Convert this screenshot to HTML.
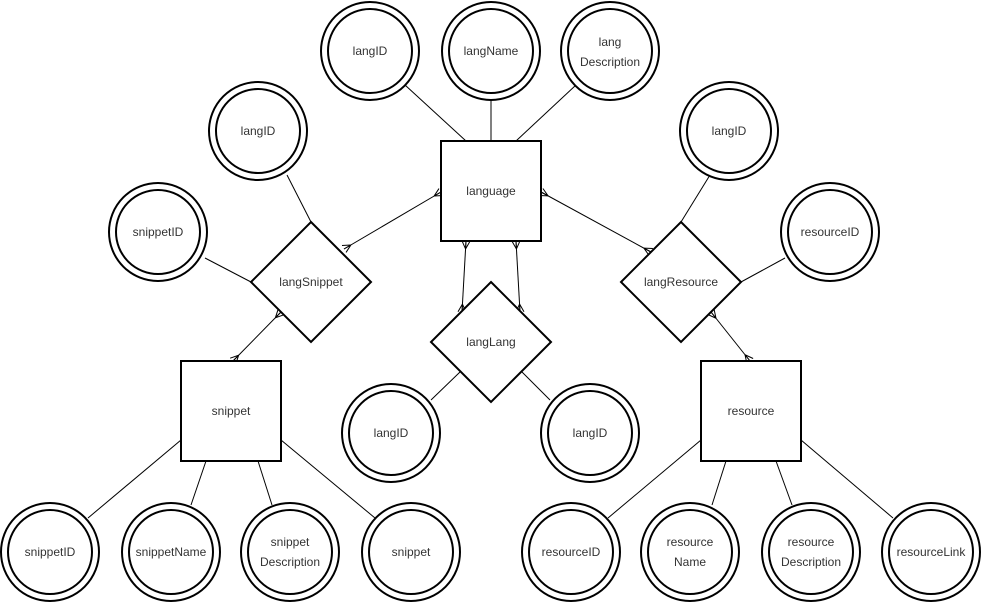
<!DOCTYPE html>
<html><head><meta charset="utf-8"><style>
html,body{margin:0;padding:0;background:#fff;}
svg{display:block;}
text{font-family:"Liberation Sans",Arial,sans-serif;font-size:12px;fill:#333;text-anchor:middle;dominant-baseline:central;}
</style></head><body>
<svg width="982" height="602" viewBox="0 0 982 602" xmlns="http://www.w3.org/2000/svg">
<defs>
<marker id="cf" markerWidth="12" markerHeight="12" refX="10" refY="5" orient="auto-start-reverse" markerUnits="userSpaceOnUse">
<path d="M2,5 L10,1 M2,5 L10,9 M2,5 L10,5" stroke="#000" stroke-width="1" fill="none"/>
</marker>
</defs>
<g stroke="#000" stroke-width="1" fill="none">
<line x1="405" y1="85" x2="466" y2="141"/>
<line x1="491" y1="99" x2="491" y2="141"/>
<line x1="576" y1="85" x2="516" y2="141"/>
<line x1="287" y1="175" x2="311" y2="222"/>
<line x1="205" y1="258" x2="251" y2="282"/>
<line x1="441" y1="192" x2="344" y2="249" marker-start="url(#cf)" marker-end="url(#cf)"/>
<line x1="281" y1="312" x2="233" y2="361" marker-start="url(#cf)" marker-end="url(#cf)"/>
<line x1="466" y1="241" x2="462" y2="312" marker-start="url(#cf)" marker-end="url(#cf)"/>
<line x1="516" y1="241" x2="520" y2="312" marker-start="url(#cf)" marker-end="url(#cf)"/>
<line x1="460" y1="372" x2="431" y2="400"/>
<line x1="522" y1="372" x2="550" y2="400"/>
<line x1="541" y1="192" x2="651" y2="252" marker-start="url(#cf)" marker-end="url(#cf)"/>
<line x1="710" y1="175" x2="681" y2="222"/>
<line x1="785" y1="258" x2="741" y2="282"/>
<line x1="711" y1="312" x2="750" y2="361" marker-start="url(#cf)" marker-end="url(#cf)"/>
<line x1="181" y1="440" x2="88" y2="518"/>
<line x1="206" y1="461" x2="191" y2="505"/>
<line x1="258" y1="461" x2="272" y2="505"/>
<line x1="281" y1="440" x2="375" y2="518"/>
<line x1="701" y1="440" x2="608" y2="518"/>
<line x1="726" y1="461" x2="712" y2="505"/>
<line x1="776" y1="461" x2="792" y2="505"/>
<line x1="801" y1="440" x2="893" y2="518"/>
</g>
<g stroke="#000" stroke-width="2" fill="#fff">
<rect x="441" y="141" width="100" height="100"/>
<rect x="181" y="361" width="100" height="100"/>
<rect x="701" y="361" width="100" height="100"/>
<polygon points="311,222 371,282 311,342 251,282"/>
<polygon points="491,282 551,342 491,402 431,342"/>
<polygon points="681,222 741,282 681,342 621,282"/>
</g>
<g stroke="#000" stroke-width="2" fill="#fff">
<circle cx="370" cy="51" r="49"/><circle cx="370" cy="51" r="42"/>
<circle cx="491" cy="51" r="49"/><circle cx="491" cy="51" r="42"/>
<circle cx="610" cy="51" r="49"/><circle cx="610" cy="51" r="42"/>
<circle cx="258" cy="131" r="49"/><circle cx="258" cy="131" r="42"/>
<circle cx="158" cy="232" r="49"/><circle cx="158" cy="232" r="42"/>
<circle cx="729" cy="131" r="49"/><circle cx="729" cy="131" r="42"/>
<circle cx="830" cy="232" r="49"/><circle cx="830" cy="232" r="42"/>
<circle cx="391" cy="433" r="49"/><circle cx="391" cy="433" r="42"/>
<circle cx="590" cy="433" r="49"/><circle cx="590" cy="433" r="42"/>
<circle cx="50" cy="552" r="49"/><circle cx="50" cy="552" r="42"/>
<circle cx="171" cy="552" r="49"/><circle cx="171" cy="552" r="42"/>
<circle cx="290" cy="552" r="49"/><circle cx="290" cy="552" r="42"/>
<circle cx="411" cy="552" r="49"/><circle cx="411" cy="552" r="42"/>
<circle cx="571" cy="552" r="49"/><circle cx="571" cy="552" r="42"/>
<circle cx="690" cy="552" r="49"/><circle cx="690" cy="552" r="42"/>
<circle cx="811" cy="552" r="49"/><circle cx="811" cy="552" r="42"/>
<circle cx="931" cy="552" r="49"/><circle cx="931" cy="552" r="42"/>
</g>
<text x="370" y="51">langID</text>
<text x="491" y="51">langName</text>
<text x="610" y="42">lang</text><text x="610" y="62">Description</text>
<text x="258" y="131">langID</text>
<text x="158" y="232">snippetID</text>
<text x="729" y="131">langID</text>
<text x="830" y="232">resourceID</text>
<text x="391" y="433">langID</text>
<text x="590" y="433">langID</text>
<text x="50" y="552">snippetID</text>
<text x="171" y="552">snippetName</text>
<text x="290" y="542">snippet</text><text x="290" y="562">Description</text>
<text x="411" y="552">snippet</text>
<text x="571" y="552">resourceID</text>
<text x="690" y="542">resource</text><text x="690" y="562">Name</text>
<text x="811" y="542">resource</text><text x="811" y="562">Description</text>
<text x="931" y="552">resourceLink</text>
<text x="491" y="191">language</text>
<text x="231" y="411">snippet</text>
<text x="751" y="411">resource</text>
<text x="311" y="282">langSnippet</text>
<text x="491" y="342">langLang</text>
<text x="681" y="282">langResource</text>
</svg>
</body></html>
